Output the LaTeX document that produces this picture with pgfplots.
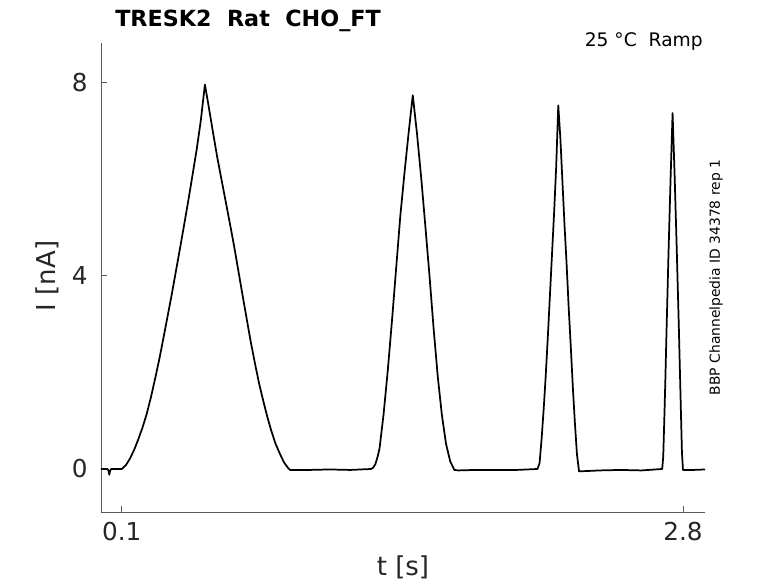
\documentclass[border=0pt]{standalone}
\usepackage{pgfplots}
\pgfplotsset{compat=1.18}
\usepackage{fontspec}
\setmainfont{DejaVu Sans}
\definecolor{axgray}{HTML}{5A5A5A}
\definecolor{txtgray}{HTML}{262626}
\begin{document}
\begin{tikzpicture}
\begin{axis}[
  at={(0,0)}, anchor=south west,
  scale only axis,
  width=453pt, height=351.75pt,
  xmin=0, xmax=2.906, ymin=-0.89, ymax=8.81,
  axis x line*=bottom, axis y line*=left,
  axis line style={axgray, line width=0.6pt, -},
  tick align=inside, major tick length=4.5pt,
  tick style={axgray, line width=0.5pt},
  xtick={0.1,2.8}, xticklabels={0.1,2.8},
  ytick={0,4,8}, yticklabels={0,4,8},
  /pgf/number format/assume math mode=true,
  ticklabel style={font=\fontsize{18.5}{22}\selectfont, text=txtgray},
  yticklabel style={xshift=-6.5pt},
  xticklabel style={yshift=-4pt},
  clip=false,
]
\addplot[black, line width=1.3pt, line join=round] coordinates {
(0.000,0.00) (0.030,0.00) (0.036,-0.03) (0.040,-0.12) (0.044,-0.03) (0.050,0.00) (0.100,0.00)
(0.120,0.08) (0.140,0.22) (0.160,0.40) (0.180,0.62) (0.200,0.86) (0.220,1.14) (0.240,1.48)
(0.260,1.86) (0.280,2.26) (0.300,2.70) (0.320,3.15) (0.340,3.60) (0.360,4.08) (0.380,4.56)
(0.400,5.05) (0.420,5.55) (0.440,6.07) (0.460,6.60) (0.480,7.20) (0.500,7.95)
(0.520,7.45) (0.540,6.93) (0.560,6.43) (0.580,5.98) (0.600,5.53) (0.620,5.08) (0.640,4.62)
(0.660,4.12) (0.680,3.62) (0.700,3.13) (0.720,2.64) (0.740,2.20) (0.760,1.78) (0.780,1.42)
(0.800,1.08) (0.820,0.78) (0.840,0.52) (0.860,0.32) (0.880,0.14) (0.900,0.02) (0.910,-0.02)
(1.000,-0.02) (1.100,-0.01) (1.200,-0.02) (1.300,0.00)
(1.310,0.03) (1.320,0.10) (1.330,0.24) (1.340,0.42) (1.360,1.15) (1.380,2.05) (1.400,3.07)
(1.420,4.15) (1.440,5.23) (1.460,6.12) (1.480,6.95) (1.500,7.73)
(1.520,6.95) (1.540,6.05) (1.560,5.05) (1.580,4.02) (1.600,2.92) (1.620,1.92) (1.640,1.12)
(1.660,0.52) (1.680,0.16) (1.700,-0.02) (1.720,-0.03)
(1.800,-0.02) (1.900,-0.02) (2.000,-0.02) (2.100,0.00)
(2.110,0.12) (2.120,0.63) (2.130,1.25) (2.140,1.95) (2.150,2.75) (2.160,3.60) (2.170,4.45)
(2.180,5.30) (2.190,6.25) (2.200,7.52)
(2.210,6.85) (2.220,5.95) (2.230,5.05) (2.240,4.25) (2.250,3.35) (2.260,2.55) (2.270,1.70)
(2.280,0.95) (2.290,0.30) (2.300,-0.05)
(2.400,-0.03) (2.500,-0.02) (2.600,-0.03) (2.700,0.00)
(2.705,0.25) (2.710,1.00) (2.715,1.80) (2.720,2.70) (2.730,4.40) (2.740,5.95) (2.750,7.36)
(2.760,6.05) (2.770,4.55) (2.780,2.95) (2.790,1.20) (2.795,0.35) (2.800,-0.02)
(2.850,-0.02) (2.906,-0.01)
};
\end{axis}
% title and annotations (1px = 0.75pt, origin at axis lower-left)
\node[anchor=base west, inner sep=0pt, font=\fontsize{16.7}{20}\selectfont\bfseries] at (10.5pt,363.75pt) {TRESK2\ \ Rat\ \ CHO\_FT};
\node[anchor=base east, inner sep=0pt, font=\fontsize{14}{17}\selectfont, text=black] at (451.5pt,348.75pt) {25 °C\ \ Ramp};
\node[rotate=90, inner sep=0pt, font=\fontsize{10.4}{12}\selectfont] at (461.25pt,175.9pt) {BBP Channelpedia ID 34378 rep 1};
\node[inner sep=0pt, font=\fontsize{19.5}{23}\selectfont, text=txtgray] at (226.5pt,-41.5pt) {t [s]};
\node[rotate=90, inner sep=0pt, font=\fontsize{19.5}{23}\selectfont, text=txtgray] at (-40.5pt,177pt) {I [nA]};
\pgfresetboundingbox
\path[use as bounding box] (-75.75pt,-53.25pt) rectangle (507.75pt,384pt);
\end{tikzpicture}
\end{document}
